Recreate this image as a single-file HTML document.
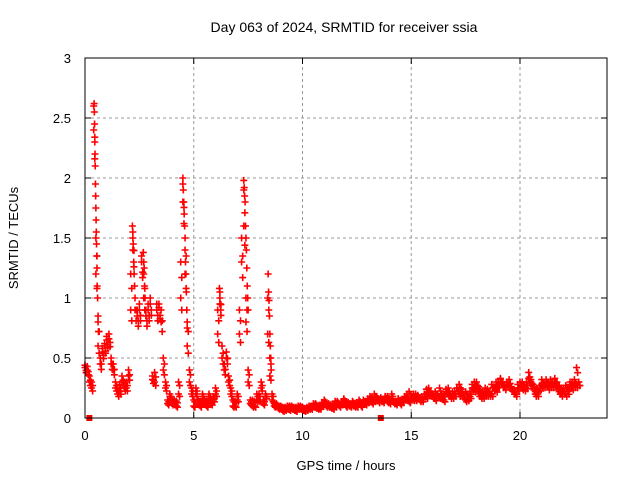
<!DOCTYPE html>
<html><head><meta charset="utf-8"><style>
body{margin:0;background:#fff;}
svg text{font-family:"Liberation Sans",sans-serif;font-size:13px;fill:#000;}
</style></head><body>
<svg width="640" height="480" xmlns="http://www.w3.org/2000/svg">
<text x="344" y="32" text-anchor="middle" style="font-size:14px">Day 063 of 2024, SRMTID for receiver ssia</text>
<g id="grid"></g>
<g id="axes"></g>
<g id="marks"></g>
<rect x="85" y="58" width="522" height="360" fill="none" stroke="#000" stroke-width="1"/>
<text x="346" y="470" text-anchor="middle">GPS time / hours</text>
<text transform="translate(18,238) rotate(-90)" text-anchor="middle">SRMTID / TECUs</text>
</svg>
<script>
const xTicks=[0,5,10,15,20];
const yTicks=[0,0.5,1,1.5,2,2.5,3];
const yTickLabels=["0","0.5","1","1.5","2","2.5","3"];
const valuesA=[0.44,0.43,0.35,0.3,2.6,1.5,0.8,0.5,0.55,0.6,0.65,0.7,0.5,0.45,0.3,0.25,0.28,0.3,0.25,0.3,0.35,0.9,1.55,1.0,0.9,0.9,1.3,1.2,0.9,0.95,0.95,0.35,0.3,0.95,0.95,0.9,0.5,0.3,0.15,0.2,0.15,0.12,0.1,0.2,1.0,1.95,1.5,0.8,0.4,0.2,0.15,0.2,0.15,0.1,0.2,0.15,0.1,0.18,0.12,0.15,0.2,0.7,1.05,0.6,0.45,0.5,0.3,0.2,0.15,0.1,0.2,0.7,1.3,1.9,1.0,0.3,0.12,0.15,0.1,0.2,0.15,0.25,0.15,0.2,1.0,0.5,0.2,0.12,0.1,0.1,0.08,0.09,0.07,0.08,0.1,0.08,0.07,0.09,0.08,0.1,0.07,0.06,0.09,0.08,0.1,0.12,0.09,0.08,0.1,0.13,0.15,0.12,0.1,0.09,0.11,0.14,0.12,0.1,0.13,0.15,0.12,0.11,0.1,0.14,0.12,0.1,0.13,0.12,0.15,0.14,0.16,0.15,0.17,0.2,0.18,0.16,0.15,0.14,0.17,0.18,0.16,0.15,0.13,0.14,0.16,0.12,0.15,0.17,0.2,0.22,0.18,0.16,0.2,0.18,0.15,0.17,0.2,0.24,0.25,0.2,0.18,0.22,0.2,0.18,0.17,0.2,0.22,0.25,0.2,0.18,0.22,0.25,0.28,0.2,0.18,0.15,0.2,0.22,0.28,0.3,0.25,0.2,0.18,0.22,0.25,0.2,0.22,0.28,0.26,0.24,0.3,0.33,0.3,0.28,0.3,0.28,0.25,0.24,0.22,0.25,0.28,0.3,0.25,0.3,0.33,0.3,0.28,0.22,0.2,0.25,0.28,0.3,0.32,0.3,0.28,0.3,0.33,0.3,0.27,0.25,0.22,0.2,0.25,0.28,0.3,0.32,0.28,0.3];
const valuesB=[0.42,0.4,0.3,0.25,2.4,1.2,0.6,0.45,0.58,0.62,0.68,0.66,0.45,0.4,0.25,0.2,0.22,0.35,0.3,0.25,0.4,1.2,1.4,0.9,0.85,0.95,1.35,1.0,0.85,0.9,1.0,0.32,0.38,0.9,0.92,0.8,0.4,0.25,0.12,0.18,0.12,0.15,0.14,0.3,1.3,1.8,1.2,0.6,0.3,0.25,0.1,0.25,0.12,0.14,0.16,0.12,0.14,0.2,0.15,0.18,0.25,0.9,0.95,0.5,0.4,0.55,0.35,0.25,0.1,0.14,0.15,0.9,1.5,1.6,0.8,0.4,0.15,0.1,0.14,0.15,0.2,0.3,0.12,0.18,0.7,0.35,0.15,0.1,0.12,0.08,0.1,0.06,0.09,0.1,0.07,0.1,0.09,0.06,0.1,0.08,0.09,0.08,0.07,0.1,0.08,0.1,0.12,0.1,0.08,0.11,0.12,0.1,0.12,0.11,0.08,0.1,0.14,0.11,0.12,0.16,0.1,0.13,0.12,0.11,0.1,0.13,0.15,0.1,0.13,0.12,0.14,0.18,0.13,0.15,0.16,0.14,0.17,0.15,0.18,0.14,0.13,0.2,0.14,0.12,0.16,0.15,0.14,0.18,0.16,0.14,0.18,0.2,0.16,0.19,0.17,0.15,0.2,0.18,0.21,0.22,0.2,0.16,0.2,0.25,0.2,0.15,0.24,0.2,0.18,0.22,0.2,0.25,0.2,0.24,0.2,0.22,0.16,0.18,0.25,0.24,0.3,0.26,0.22,0.18,0.2,0.24,0.2,0.2,0.25,0.3,0.28,0.32,0.28,0.26,0.3,0.32,0.26,0.22,0.2,0.28,0.3,0.26,0.28,0.27,0.38,0.32,0.26,0.2,0.24,0.27,0.32,0.28,0.3,0.26,0.32,0.28,0.3,0.26,0.22,0.2,0.25,0.27,0.22,0.3,0.26,0.28,0.42,0.3];
const timeStep=0.1;
const peakTimes=[0.42,0.43,0.44,0.45,0.46,0.47,0.48,0.49,0.5,0.51,0.52,0.53,0.54,0.55,0.56,0.58,0.6,0.62,2.18,2.2,2.22,2.24,2.26,2.28,2.68,2.7,2.72,2.74,2.76,4.5,4.52,4.54,4.56,4.58,4.6,4.62,4.64,4.66,4.68,4.7,7.3,7.32,7.34,7.36,7.38,7.4,7.42,7.44,7.46,7.48,7.5,8.42,8.44,8.46,8.48,8.5,8.52,8.54,8.56,6.18,6.2,6.22,6.24];
const peakValues=[2.62,2.55,2.45,2.3,2.2,2.1,1.95,1.85,1.75,1.65,1.55,1.45,1.35,1.25,1.1,1.0,0.85,0.72,1.6,1.5,1.45,1.3,1.2,1.1,1.38,1.3,1.25,1.1,1.0,2.0,1.9,1.8,1.7,1.6,1.4,1.3,1.2,1.05,0.9,0.75,1.98,1.92,1.85,1.8,1.6,1.5,1.4,1.25,1.1,1.0,0.9,1.2,1.05,0.98,0.85,0.7,0.6,0.5,0.4,1.08,1.0,0.95,0.9];
const markerTimes=[0.2,13.6];
const X0=85,X1=607,Y0=418,Y1=58,XMAX=24,YMAX=3;
const ns="http://www.w3.org/2000/svg";
function xs(t){return X0+(t/XMAX)*(X1-X0);}
function ys(v){return Y0-(v/YMAX)*(Y0-Y1);}
function mk(tag,attrs,parent){const e=document.createElementNS(ns,tag);for(const k in attrs)e.setAttribute(k,attrs[k]);parent.appendChild(e);return e;}
const grid=document.getElementById('grid'),axes=document.getElementById('axes'),marks=document.getElementById('marks');
xTicks.forEach(t=>{const x=xs(t);
 if(t>0){const l=mk('line',{x1:x,y1:Y0,x2:x,y2:Y1,stroke:'#999','stroke-dasharray':'3,3'},grid);
 
 }
 mk('line',{x1:x,y1:Y0,x2:x,y2:Y0-6,stroke:'#000'},axes);
 mk('line',{x1:x,y1:Y1,x2:x,y2:Y1+6,stroke:'#000'},axes);
 const tx=mk('text',{x:x,y:Y0+22,'text-anchor':'middle'},axes);tx.textContent=t;
 
 
});
yTicks.forEach((v,i)=>{const y=ys(v);
 if(v>0&&v<3){const l=mk('line',{x1:X0,y1:y,x2:X1,y2:y,stroke:'#999','stroke-dasharray':'3,3'},grid);
 
 }
 mk('line',{x1:X0,y1:y,x2:X0+6,y2:y,stroke:'#000'},axes);
 mk('line',{x1:X1,y1:y,x2:X1-6,y2:y,stroke:'#000'},axes);
 const tx=mk('text',{x:X0-14,y:y+5,'text-anchor':'end'},axes);tx.textContent=yTickLabels[i];
 
 
});
function plus(x,y){const p=mk('path',{d:`M${x-3.5},${y}h7M${x},${y-3.5}v7`,stroke:'#f00','stroke-width':1.6,fill:'none'},marks);
 
 }
[valuesA,valuesB].forEach(arr=>arr.forEach((v,i)=>{plus(xs(i*timeStep),ys(v));plus(xs(i*timeStep+0.05),ys(v*0.9));}));
peakTimes.forEach((t,i)=>plus(xs(t),ys(peakValues[i])));
markerTimes.forEach(t=>{const r=mk('rect',{x:xs(t)-3,y:Y0-3,width:6,height:6,fill:'#e00'},marks);
 
 });
</script>
</body></html>
